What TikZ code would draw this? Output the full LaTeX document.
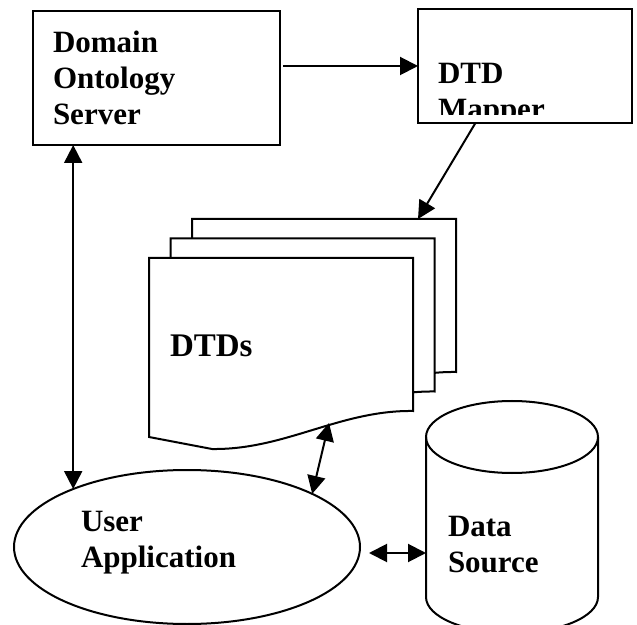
\documentclass[tikz,border=0pt]{standalone}
\usepackage{fontspec}
\setmainfont{Liberation Serif}
\usetikzlibrary{arrows.meta,shapes.geometric}

\begin{document}
\begin{tikzpicture}[x=0.5pt,y=-0.5pt,line width=1pt]
    \tikzset{
        box/.style={draw, rectangle, inner sep=0pt, outer sep=0pt},
        tag/.style={font=\fontsize{15.5}{18}\selectfont\bfseries, align=left, inner sep=0pt, anchor=north west},
        one way/.style={-{Triangle[length=9pt,width=9pt]}},
        two way/.style={{Triangle[length=9pt,width=9pt]}-{Triangle[length=9pt,width=9pt]}},
    }
    \useasboundingbox (0,0) rectangle (637,625);
    \clip (0,0) rectangle (637,625);
    % the two servers
    \node[box, minimum width=123.5pt, minimum height=67pt, text width=103.5pt, inner xsep=10pt,
        font=\fontsize{15.5}{18}\selectfont\bfseries, align=left] (domain) at (156.5,78) {Domain\\Ontology\\Server};
    \node[box, minimum width=107pt, minimum height=57pt] (mapper) at (525,66) {};
    \begin{scope}
        \clip (mapper.north west) rectangle ([yshift=4pt]mapper.south east);
        \node[tag] (mapperlabel) at (437,62) {DTD\\Mapper};
    \end{scope}
    % stack of DTD pages
    \foreach \s in {2,1,0}
        \draw[fill=white, shift={(21.5*\s,-19.5*\s)}] (149,258) -- (413,258) -- (413,411)
            .. controls (340,410) and (285,450) .. (212,449) -- (149,437) -- cycle;
    \node[tag, font=\fontsize{16.5}{20}\selectfont\bfseries] (dtds) at (169,334) {DTDs};
    \coordinate (dtdtop) at (418,219);
    \coordinate (dtdfoot) at (329,423);
    % user application
    \node[draw, ellipse, minimum width=173pt, minimum height=77pt, inner sep=0pt, outer sep=0pt] (app) at (187,547) {};
    \node[tag] (applabel) at (80,510) {User\\Application};
    % data source
    \draw[fill=white] (426,437) -- (426,597) arc[start angle=180, end angle=0, x radius=86, y radius=36] -- (598,437);
    \draw (512,437) ellipse[x radius=86, y radius=36];
    \node[tag] (dblabel) at (447,515) {Data\\Source};
    \coordinate (dbside) at (426,553);
    \coordinate (appside) at (app.east |- dbside);
    % connectors
    \draw[one way, shorten <=1.5pt] (domain.east |- mapper.west) -- (mapper.west);
    \draw[one way] (mapper.-131) -- (dtdtop);
    \draw[two way] (domain.south -| app.153) -- (app.153);
    \draw[two way] (dtdfoot) -- (app.23);
    \draw[two way] ([xshift=4.5pt]appside) -- (dbside);
\end{tikzpicture}
\end{document}
